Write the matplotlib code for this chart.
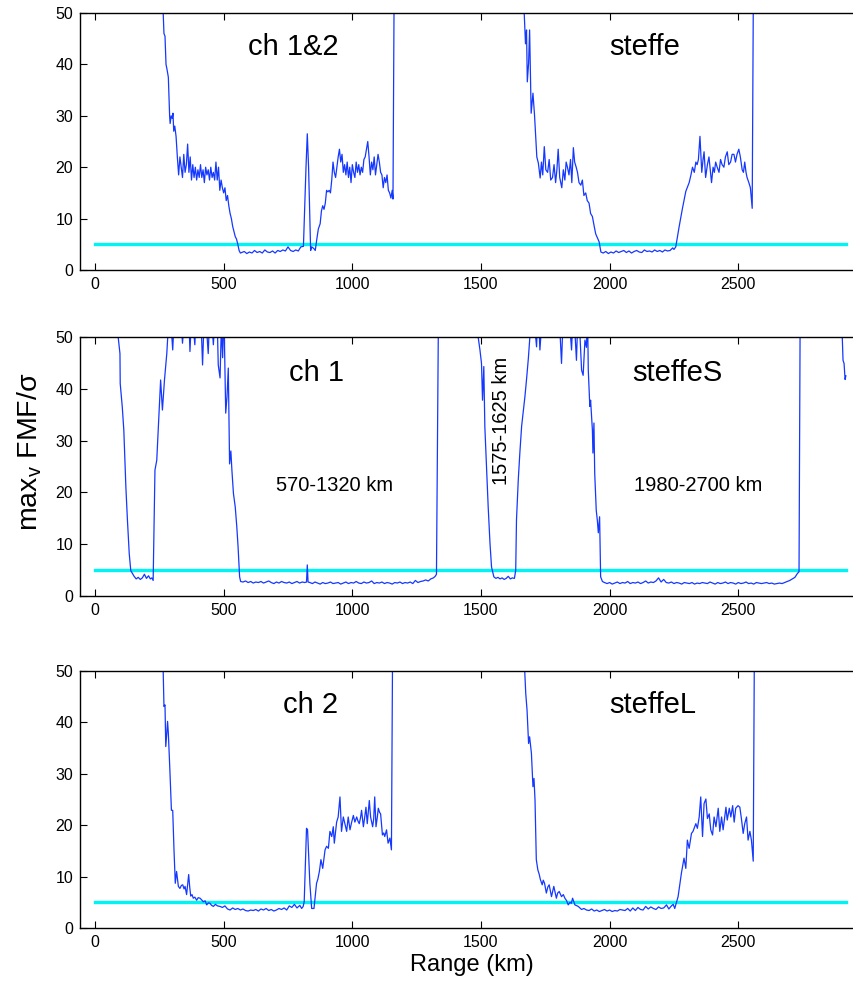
import matplotlib
matplotlib.use("Agg")
import matplotlib.pyplot as plt

plt.rcParams["font.family"] = ["Liberation Sans", "DejaVu Sans"]
plt.rcParams["mathtext.fontset"] = "custom"
plt.rcParams["mathtext.rm"] = "Liberation Sans"
plt.rcParams["mathtext.it"] = "Liberation Sans:italic"

# panel 1: ch 1&2 / steffe
top_km = [260, 265, 268, 272, 276, 280, 285, 290, 292, 296,
          300, 303, 306, 310, 315, 320, 325, 330, 335, 340,
          345, 350, 355, 360, 365, 370, 375, 380, 385, 390,
          395, 400, 405, 410, 415, 420, 425, 430, 435, 440,
          445, 450, 455, 460, 465, 470, 475, 480, 485, 490,
          495, 500, 505, 510, 515, 520, 525, 530, 535, 540,
          545, 550, 555, 560, 565, 570, 580, 590, 600, 610,
          620, 630, 640, 650, 660, 670, 680, 690, 700, 710,
          720, 730, 740, 750, 760, 770, 780, 790, 800, 810,
          820, 825, 830, 838, 842, 850, 856, 862, 868, 875,
          880, 885, 890, 895, 900, 905, 910, 915, 920, 925,
          930, 935, 940, 945, 950, 955, 960, 965, 970, 975,
          980, 985, 990, 995, 1000, 1005, 1010, 1015, 1020, 1025,
          1030, 1035, 1040, 1045, 1050, 1055, 1060, 1065, 1070, 1075,
          1080, 1085, 1090, 1095, 1100, 1105, 1110, 1115, 1120, 1125,
          1130, 1135, 1140, 1145, 1150, 1155, 1158, 1162, 1165, 1660,
          1668, 1673, 1677, 1680, 1685, 1689, 1695, 1702, 1708, 1717,
          1723, 1730, 1735, 1740, 1746, 1752, 1759, 1765, 1771, 1778,
          1784, 1790, 1795, 1800, 1806, 1814, 1820, 1826, 1831, 1836,
          1842, 1848, 1853, 1859, 1864, 1870, 1875, 1881, 1888, 1894,
          1900, 1907, 1913, 1920, 1926, 1933, 1940, 1946, 1953, 1959,
          1966, 1975, 1985, 1995, 2005, 2015, 2025, 2035, 2045, 2055,
          2065, 2075, 2085, 2095, 2105, 2115, 2125, 2135, 2145, 2155,
          2165, 2175, 2185, 2195, 2205, 2215, 2225, 2235, 2245, 2250,
          2257, 2270, 2283, 2296, 2309, 2316, 2322, 2329, 2335, 2340,
          2345, 2351, 2358, 2363, 2367, 2373, 2380, 2386, 2391, 2396,
          2402, 2407, 2412, 2418, 2425, 2431, 2437, 2444, 2450, 2457,
          2463, 2470, 2476, 2483, 2489, 2495, 2502, 2508, 2515, 2520,
          2525, 2530, 2534, 2541, 2547, 2554, 2558, 2562]
top_val = [80, 50, 46, 45.5, 40, 39, 37.5, 30, 28.5, 30,
           29.5, 30.5, 27, 28, 26, 22, 18.5, 22, 20, 18,
           22.5, 19, 20.5, 24.5, 19, 22, 17.5, 20.5, 18, 20,
           17.5, 19.5, 18, 20.5, 18, 19.5, 17, 20, 18.5, 19.5,
           17.5, 20, 18, 19, 17.5, 21, 17.5, 20, 15.5, 17.5,
           16, 15, 16, 13.5, 14.5, 12.5, 11, 10, 8.5, 7.5,
           6.5, 6, 5, 3.8, 3.3, 3.4, 3.6, 3.2, 3.5, 3.3,
           3.8, 3.4, 3.6, 3.3, 3.9, 3.5, 3.4, 3.7, 3.3, 3.8,
           3.6, 3.9, 3.7, 4.5, 3.8, 3.6, 3.9, 3.7, 4.5, 4.6,
           20, 26.5, 20, 3.8, 4.5, 4.2, 3.8, 6, 8, 9,
           11.5, 12.5, 11.8, 13, 15.5, 15.2, 15.5, 15, 17.5, 21,
           19, 18, 20, 22, 23.5, 21, 22.5, 19, 20.5, 18.5,
           21, 18, 20, 17, 20.5, 19, 18, 21, 19, 20.5,
           18.5, 20, 19, 21.5, 22, 23.5, 25, 22, 18.5, 21,
           19.5, 22, 18.5, 20.5, 22.5, 21, 19, 18.5, 16, 18,
           17, 18.5, 15.5, 15, 14, 15.5, 13.8, 50, 80, 80,
           50, 44, 46.7, 36.6, 40.2, 46.7, 30.5, 34.4, 30.2, 22,
           20.8, 17.9, 21, 18.5, 24, 19.5, 19, 21.5, 17.5, 18,
           20.5, 17, 19.5, 23.5, 18, 16, 19.5, 17.5, 21, 20,
           18.5, 21.5, 17, 23.8, 21, 20, 19, 17, 16.5, 17.5,
           14.5, 15, 13.5, 13, 11, 10.4, 8.5, 7, 6.2, 5.5,
           3.5, 3.3, 3.6, 3.2, 3.5, 3.3, 3.7, 3.4, 3.6, 3.8,
           3.4, 3.7, 3.3, 3.6, 3.8, 3.5, 3.4, 3.9, 3.6, 3.7,
           3.5, 3.9, 3.6, 3.8, 3.5, 3.9, 3.7, 3.8, 4.3, 4.0,
           4.5, 8.4, 12, 15.3, 17, 18.5, 20, 19, 21, 20.5,
           21.5, 26, 19, 21.5, 23, 18, 20.5, 22, 19.5, 17,
           20, 19, 21, 20, 19, 21.5, 20.5, 20, 22, 23,
           20.5, 21, 22.5, 22.5, 21, 22.5, 23.5, 22, 19.5, 19,
           21, 19, 18, 17, 16, 12, 50, 80]

# panel 2: ch 1 / steffeS
mid_km = [85, 90, 97, 98, 106, 112, 120, 126, 133, 139,
          145, 152, 160, 168, 176, 184, 192, 200, 208, 215,
          221, 226, 233, 240, 250, 255, 262, 270, 279, 285,
          292, 302, 310, 320, 330, 340, 348, 356, 362, 369,
          376, 382, 388, 395, 402, 410, 418, 425, 433, 440,
          447, 454, 460, 467, 473, 479, 486, 491, 496, 501,
          505, 508, 513, 518, 523, 528, 532, 538, 545, 551,
          556, 562, 566, 575, 585, 595, 605, 615, 625, 635,
          645, 655, 665, 675, 685, 695, 705, 715, 725, 735,
          745, 755, 765, 775, 785, 795, 805, 815, 822, 825,
          828, 835, 845, 855, 865, 875, 885, 895, 905, 915,
          925, 935, 945, 955, 965, 975, 985, 995, 1005, 1015,
          1025, 1035, 1045, 1055, 1065, 1075, 1085, 1095, 1105, 1115,
          1125, 1135, 1145, 1155, 1165, 1175, 1185, 1195, 1205, 1215,
          1225, 1235, 1245, 1255, 1265, 1275, 1285, 1295, 1305, 1315,
          1322, 1327, 1334, 1340, 1485, 1489, 1496, 1502, 1506, 1511,
          1515, 1522, 1528, 1535, 1541, 1550, 1558, 1566, 1574, 1582,
          1590, 1598, 1606, 1614, 1622, 1630, 1635, 1638, 1645, 1651,
          1658, 1664, 1671, 1677, 1684, 1690, 1700, 1709, 1716, 1722,
          1729, 1738, 1748, 1758, 1768, 1778, 1788, 1798, 1806, 1813,
          1820, 1828, 1836, 1844, 1852, 1858, 1864, 1871, 1878, 1884,
          1891, 1897, 1904, 1910, 1914, 1917, 1923, 1926, 1933, 1935,
          1939, 1942, 1948, 1952, 1956, 1961, 1965, 1972, 1980, 1990,
          2000, 2010, 2020, 2030, 2040, 2050, 2060, 2070, 2080, 2090,
          2100, 2110, 2120, 2130, 2140, 2150, 2160, 2170, 2180, 2190,
          2200, 2210, 2220, 2230, 2240, 2250, 2260, 2270, 2280, 2290,
          2300, 2310, 2320, 2330, 2340, 2350, 2360, 2370, 2380, 2390,
          2400, 2410, 2420, 2430, 2440, 2450, 2460, 2470, 2480, 2490,
          2500, 2510, 2520, 2530, 2540, 2550, 2560, 2570, 2580, 2590,
          2600, 2610, 2620, 2630, 2640, 2650, 2660, 2670, 2680, 2690,
          2700, 2710, 2720, 2729, 2736, 2740, 2744, 2900, 2904, 2907,
          2911, 2915, 2918]
mid_val = [80, 50, 46.8, 41, 36.5, 32, 21, 14.7, 8.2, 4.9,
           4.4, 3.8, 3.3, 3.6, 3.2, 3.5, 4.2, 3.4, 3.9, 3.3,
           3.5, 3.0, 24.3, 26.2, 36.5, 41.7, 35.9, 41.7, 46.8, 52,
           55, 47.5, 56, 53, 57, 48.8, 54, 51, 58, 47.2,
           55, 52, 48.5, 57, 53, 56, 44.6, 55, 52, 46.8,
           56, 53, 48.5, 55, 57, 44.6, 42.1, 52, 46, 55,
           44, 35.3, 38.5, 44, 25.5, 28, 24.3, 19.8, 17.2, 13.4,
           9.5, 3.7, 2.8, 2.7, 2.9, 2.6, 2.8, 2.5, 2.7, 2.6,
           2.8, 2.5, 2.7, 2.9, 2.6, 2.4, 2.7, 2.5, 2.8, 2.6,
           2.5, 2.7, 2.4, 2.6, 2.8, 2.5, 2.7, 2.6, 2.7, 6.0,
           2.7, 2.6, 2.4, 2.7, 2.5, 2.3, 2.6, 2.4, 2.5, 2.7,
           2.4, 2.5, 2.6, 2.3, 2.5, 2.7, 2.4, 2.6, 2.5, 2.8,
           2.5, 2.4, 2.7, 2.5, 2.6, 2.9, 2.4, 2.6, 2.5, 2.7,
           2.4, 2.6, 2.5, 2.3, 2.6, 2.5, 2.7, 2.4, 2.6, 2.5,
           2.7, 2.4, 3.0, 2.6, 2.8, 2.9, 3.1, 2.9, 3.3, 3.5,
           3.8, 4.2, 50, 80, 80, 50, 47.5, 44.9, 37.8, 44.3,
           32.7, 24.3, 17.2, 10.2, 5.6, 3.7, 3.4, 3.6, 3.3, 3.5,
           3.2, 3.4, 3.8, 3.3, 3.5, 3.4, 5, 14.7, 22.5, 27.6,
           32.8, 35.4, 38.6, 41.8, 45.8, 50, 55, 52, 48.1, 56,
           47.5, 54, 57, 52, 55, 58, 53, 56, 52, 44.9,
           55, 52, 57, 53, 47.5, 55, 52, 45.5, 56, 51,
           43.6, 42.6, 49.4, 48, 55, 43.6, 36.6, 37.8, 32, 27.6,
           33.4, 23.7, 16.5, 14.7, 12.2, 15.3, 3.7, 2.8, 2.6, 2.4,
           2.6, 2.3, 2.5, 2.7, 2.4, 2.6, 2.5, 2.8, 2.4, 2.6,
           2.5, 2.7, 2.4, 2.6, 2.9, 2.5, 2.7, 2.6, 2.9, 3.5,
           2.7, 3.2, 2.6, 2.5, 2.7, 2.4, 2.6, 2.5, 2.3, 2.6,
           2.5, 2.4, 2.6, 2.3, 2.5, 2.4, 2.6, 2.5, 2.4, 2.7,
           2.5, 2.3, 2.6, 2.4, 2.5, 2.7, 2.4, 2.6, 2.5, 2.3,
           2.6, 2.4, 2.5, 2.7, 2.4, 2.5, 2.3, 2.6, 2.5, 2.4,
           2.5, 2.6, 2.4, 2.5, 2.3, 2.4, 2.5, 2.4, 2.6, 2.8,
           3.0, 3.3, 3.6, 4.3, 4.7, 50, 80, 80, 50, 45.5,
           44.9, 41.8, 42.5]

# panel 3: ch 2 / steffeL
bot_km = [260, 265, 268, 272, 275, 279, 282, 285, 291, 297,
          302, 307, 312, 317, 324, 330, 336, 341, 346, 350,
          356, 360, 364, 368, 372, 377, 382, 388, 395, 401,
          408, 414, 421, 428, 434, 441, 447, 453, 460, 468,
          476, 486, 495, 505, 515, 525, 535, 545, 555, 565,
          575, 585, 595, 605, 615, 625, 635, 645, 655, 665,
          675, 685, 695, 705, 715, 725, 735, 745, 755, 765,
          775, 785, 796, 803, 809, 813, 822, 826, 835, 842,
          851, 861, 866, 872, 878, 885, 894, 900, 907, 913,
          920, 926, 930, 939, 945, 952, 958, 965, 971, 978,
          984, 991, 997, 1004, 1010, 1017, 1022, 1027, 1032, 1036,
          1043, 1048, 1053, 1058, 1062, 1066, 1071, 1079, 1083, 1087,
          1092, 1097, 1101, 1106, 1110, 1117, 1122, 1126, 1133, 1139,
          1146, 1152, 1156, 1160, 1665, 1670, 1674, 1679, 1685, 1689,
          1696, 1702, 1706, 1710, 1715, 1721, 1726, 1731, 1738, 1742,
          1747, 1754, 1760, 1765, 1774, 1778, 1783, 1793, 1798, 1804,
          1813, 1820, 1826, 1833, 1839, 1846, 1851, 1856, 1865, 1878,
          1891, 1900, 1910, 1920, 1930, 1940, 1950, 1960, 1970, 1980,
          1990, 2000, 2010, 2020, 2030, 2040, 2050, 2060, 2070, 2080,
          2090, 2100, 2110, 2120, 2130, 2140, 2150, 2160, 2170, 2180,
          2190, 2200, 2210, 2221, 2230, 2240, 2247, 2253, 2266, 2279,
          2289, 2296, 2302, 2309, 2318, 2324, 2335, 2341, 2348, 2354,
          2361, 2367, 2374, 2380, 2387, 2393, 2400, 2406, 2413, 2422,
          2428, 2435, 2441, 2452, 2457, 2465, 2471, 2478, 2484, 2490,
          2499, 2506, 2512, 2519, 2525, 2532, 2538, 2545, 2551, 2558,
          2562, 2566]
bot_val = [80, 50, 43.1, 43.4, 35.3, 37.9, 40.2, 37.9, 30.7, 22.9,
           22.9, 15.2, 8.7, 11, 8.1, 7.7, 8.3, 8.4, 7.6, 8.1,
           6.5, 8.5, 10.4, 8, 6.2, 6.5, 5.8, 6, 5.4, 5.9,
           5.8, 5.5, 5.1, 5.3, 4.5, 4.9, 4.8, 4.4, 4.2, 4.6,
           4.3, 4.2, 4.0, 4.3, 3.7, 3.5, 3.9, 3.6, 3.8, 3.5,
           3.7, 3.4, 3.3, 3.5, 3.4, 3.6, 3.3, 3.7, 3.5, 3.8,
           3.4, 3.6, 3.3, 3.5, 3.8, 3.6, 3.9, 3.5, 4.3, 4.0,
           4.6, 3.9, 4.4, 3.8, 4.2, 5.1, 19.4, 19.1, 8.7, 3.8,
           3.8, 8.7, 9.5, 11, 13.3, 11.6, 15.2, 15.9, 15.5, 18.8,
           17.8, 19.7, 16.5, 20.6, 21.6, 25.5, 18.8, 21.6, 20.3, 18.8,
           21.6, 19.1, 20.5, 21.9, 20.6, 21.6, 20.8, 20.3, 21.5, 22.9,
           19.7, 21.5, 23.5, 20.3, 22.5, 24.8, 21.6, 19.7, 21.2, 25.5,
           19.7, 21.5, 23.3, 22.5, 22.2, 18.1, 18.5, 17.8, 19.1, 16.5,
           17.5, 15.2, 50, 80, 80, 50, 45.6, 42.4, 35.9, 37.2,
           34, 27.5, 29.1, 24.9, 13.3, 11.3, 10.5, 9.4, 8.4, 9.3,
           8.7, 6.8, 8.0, 8.4, 6.1, 7.0, 8.1, 5.8, 6.8, 7.1,
           6.1, 6.5, 5.8, 5.3, 4.5, 5.0, 4.8, 5.8, 4.5, 4.2,
           3.6, 3.8, 3.5, 3.4, 3.7, 3.3, 3.5, 3.2, 3.4, 3.6,
           3.3, 3.5, 3.2, 3.4, 3.3, 3.6, 3.5, 3.4, 3.8, 3.3,
           3.9, 3.4, 4.0, 3.6, 3.5, 4.2, 3.7, 4.1, 3.8, 3.6,
           4.1, 3.8, 3.9, 4.5, 3.7, 4.3, 4.6, 3.8, 6.1, 10.7,
           13.6, 11.6, 17.1, 15.5, 18.4, 18.8, 20.3, 19.4, 21.6, 25.5,
           17.8, 24.2, 25.1, 21.3, 22.2, 19.1, 18.1, 21.6, 19.7, 23.3,
           18.8, 21.6, 19.1, 23.5, 21, 23.3, 21.6, 23.8, 20.6, 23.3,
           23.8, 23.5, 21.3, 18.4, 20.3, 21.6, 17.1, 18.8, 17.1, 13,
           50, 80]

assert len(top_km) == len(top_val)
assert len(mid_km) == len(mid_val)
assert len(bot_km) == len(bot_val)

threshold = 5
thr_range = [0, 2920]
left_labels = ["ch 1&2", "ch 1", "ch 2"]
right_labels = ["steffe", "steffeS", "steffeL"]

fig = plt.figure(figsize=(8.54, 9.83), dpi=100)
W, H = 854, 983
boxes = [(13, 270), (337, 596), (671, 928)]  # top, bottom pixel rows
label_pos = [(769, 2136, 43.4), (862, 2264, 43.0), (839, 2167, 43.4)]
series = [(top_km, top_val), (mid_km, mid_val), (bot_km, bot_val)]

# axes run past the right edge of the figure, so the right spine is cut off
right_px = 864
px_per_km = 643.3 / 2500

axes = []
for i, (t, b) in enumerate(boxes):
    ax = fig.add_axes([80 / W, 1 - b / H, (right_px - 80) / W, (b - t) / H])
    km, val = series[i]
    ax.plot(thr_range, [threshold, threshold], color="#00f4f4", lw=2.4, zorder=1)
    ax.plot(km, val, color="#1538ff", lw=0.9, zorder=2)
    ax.set_xlim((80 - 95) / px_per_km, (right_px - 95) / px_per_km)
    ax.set_ylim(0, 50)
    ax.set_xticks([0, 500, 1000, 1500, 2000, 2500])
    ax.set_yticks([0, 10, 20, 30, 40, 50])
    ax.tick_params(direction="in", length=5, width=0.8, top=True, right=True,
                   labelsize=11.5, pad=5)
    for s in ax.spines.values():
        s.set_linewidth(1.0)
    lx, rx, ly = label_pos[i]
    ax.text(lx, ly, left_labels[i], fontsize=21, ha="center", va="center")
    ax.text(rx, ly, right_labels[i], fontsize=21, ha="center", va="center")
    axes.append(ax)

axes[1].text(932, 21.4, "570-1320 km", fontsize=14.5, ha="center", va="center")
axes[1].text(2346, 21.4, "1980-2700 km", fontsize=14.5, ha="center", va="center")
axes[1].text(1581, 33.8, "1575-1625 km", fontsize=14.5, ha="center", va="center",
             rotation=90)

fig.text(30 / W, 1 - 452 / H, r"max$_{\rm v}$ FMF/σ", rotation=90,
         fontsize=20.5, ha="center", va="center")
axes[2].set_xlabel("Range (km)", fontsize=17, labelpad=3)

fig.savefig("out.png", dpi=100)
